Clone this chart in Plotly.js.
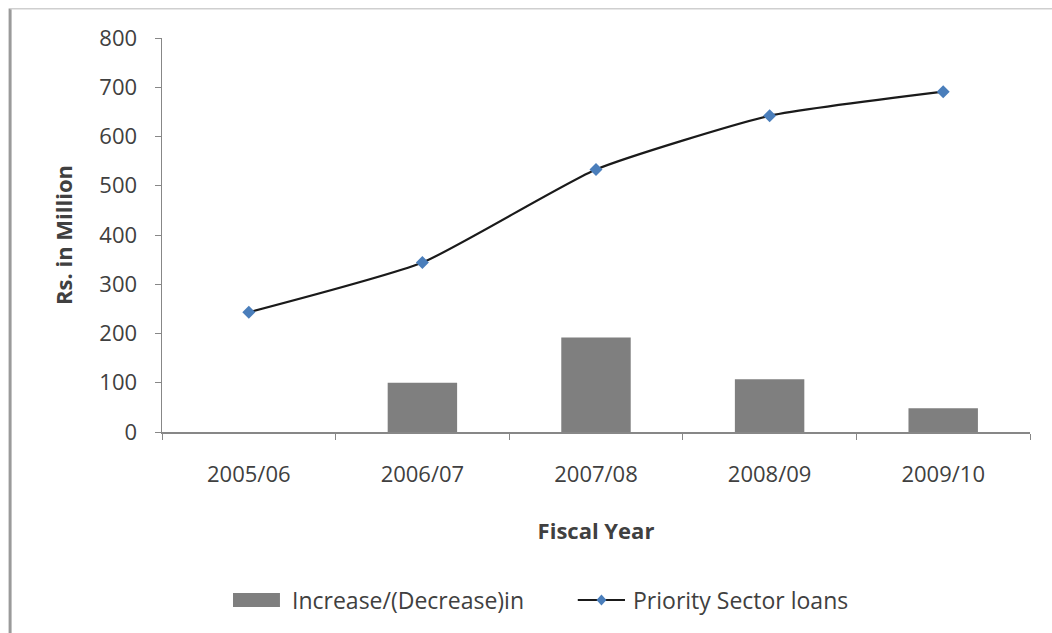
<!DOCTYPE html>
<html>
<head>
<meta charset="utf-8">
<script src="https://cdn.plot.ly/plotly-3.0.1.min.js"></script>
<style>
  html, body { margin: 0; padding: 0; background: #fff; }
  #chart { width: 1052px; height: 633px; }
</style>
</head>
<body>
<div id="chart"></div>
<script>
// Fiscal years on the category axis
const fiscalYears = ['2005/06', '2006/07', '2007/08', '2008/09', '2009/10'];
// Yearly change in priority sector loans (Rs. in Million)
const changeValues = [null, 100, 192, 107, 48];
// Priority sector loans outstanding (Rs. in Million)
const loanValues = [243, 344, 533, 642, 691];
const yTicks = [0, 100, 200, 300, 400, 500, 600, 700, 800];
const seriesNames = ['Increase/(Decrease)in', 'Priority Sector loans'];

const font = 'Open Sans, Lato, sans-serif';
const textColor = '#404040';
const grey = '#878787';
const barColor = '#7f7f7f';
const lineColor = '#1a1a1a';
const markerColor = '#4a7ebb';

const traces = [
  {
    type: 'bar',
    name: seriesNames[0],
    x: fiscalYears,
    y: changeValues,
    marker: { color: barColor },
    width: 0.4
  },
  {
    type: 'scatter',
    mode: 'lines+markers',
    name: seriesNames[1],
    x: fiscalYears,
    y: loanValues,
    line: { color: lineColor, width: 2.2, shape: 'spline', smoothing: 0.5 },
    marker: { symbol: 'diamond', size: 10, color: markerColor }
  }
];

// Legend row below the axis title (paper coordinates)
const legendY = -0.4264;
const legendShapes = [
  { type: 'rect', xref: 'paper', yref: 'paper', x0: 0.0818, x1: 0.1359, y0: -0.444, y1: -0.4086,
    fillcolor: barColor, line: { width: 0 } },
  { type: 'line', xref: 'paper', yref: 'paper', x0: 0.479, x1: 0.5334, y0: legendY, y1: legendY,
    line: { color: lineColor, width: 2.2 } },
  { type: 'path', xref: 'paper', yref: 'paper', xsizemode: 'pixel', ysizemode: 'pixel',
    xanchor: 0.5063, yanchor: legendY, path: 'M 0 5.5 L 5 0 L 0 -5.5 L -5 0 Z',
    fillcolor: markerColor, line: { width: 0 } }
];
const legendLabels = [
  { xref: 'paper', yref: 'paper', x: 0.1475, y: legendY, xanchor: 'left', yanchor: 'middle',
    text: seriesNames[0], showarrow: false, font: { family: font, size: 23, color: textColor } },
  { xref: 'paper', yref: 'paper', x: 0.5403, y: legendY, xanchor: 'left', yanchor: 'middle',
    text: seriesNames[1], showarrow: false, font: { family: font, size: 23, color: textColor } }
];

const layout = {
  width: 1052,
  height: 633,
  paper_bgcolor: '#ffffff',
  plot_bgcolor: '#ffffff',
  margin: { l: 162, r: 22, t: 38, b: 201 },
  font: { family: font, color: textColor, size: 22 },
  showlegend: false,
  xaxis: {
    type: 'category',
    showline: true, linecolor: grey, linewidth: 1.5,
    ticks: 'outside', tickson: 'boundaries', ticklen: 6, tickcolor: grey,
    ticklabelstandoff: 22,
    tickfont: { family: font, size: 22, color: textColor },
    showgrid: false, zeroline: false,
    title: { text: '<b>Fiscal Year</b>', font: { family: font, size: 22, color: textColor }, standoff: 36 }
  },
  yaxis: {
    range: [0, 800],
    tickvals: yTicks,
    showline: true, linecolor: grey, linewidth: 1.5,
    ticks: 'outside', ticklen: 6, tickcolor: grey,
    ticklabelstandoff: 13,
    tickfont: { family: font, size: 22, color: textColor },
    showgrid: false, zeroline: false,
    title: { text: '<b>Rs. in Million</b>', font: { family: font, size: 22, color: textColor }, standoff: 20 }
  },
  bargap: 0.6,
  annotations: legendLabels,
  shapes: [
    // left frame edge
    { type: 'line', xref: 'paper', yref: 'paper', x0: -0.175, x1: -0.175, y0: -0.52, y1: 1.075,
      line: { color: '#9a9a9a', width: 3 } },
    // top frame edge
    { type: 'line', xref: 'paper', yref: 'paper', x0: -0.175, x1: 1.03, y0: 1.074, y1: 1.074,
      line: { color: '#cfcfcf', width: 1.5 } }
  ].concat(legendShapes)
};

Plotly.newPlot('chart', traces, layout, { displayModeBar: false, staticPlot: true });
</script>
</body>
</html>
